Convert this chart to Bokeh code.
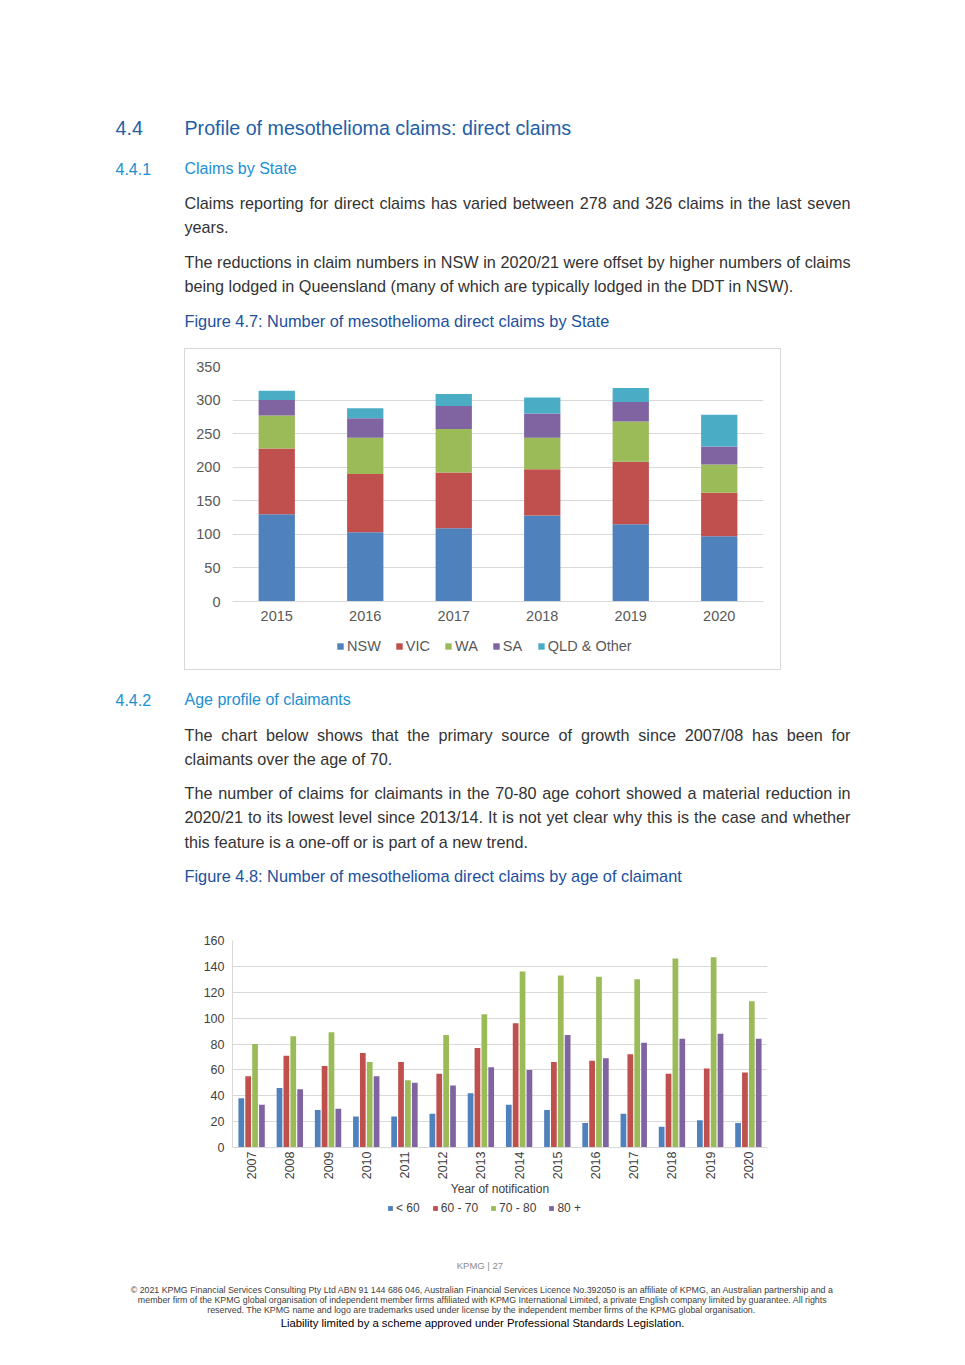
import math
from bokeh.plotting import figure
from bokeh.models import (Range1d, ColumnDataSource, Legend, LegendItem,
                          Spacer, FactorRange)
from bokeh.layouts import column, row
from bokeh.transform import dodge
from bokeh.core.properties import value
from bokeh.embed import file_html
from bokeh.resources import INLINE

# ---------------- Figure 4.7 data: claims by State ----------------
state_years = ["2015", "2016", "2017", "2018", "2019", "2020"]
nsw = [130, 103, 109, 128, 115, 97]
vic = [98, 87, 83, 69, 93, 65]
wa = [49, 54, 65, 47, 60, 42]
sa = [23, 29, 34, 36, 29, 27]
qld_other = [14, 15, 18, 24, 21, 47]
state_names = ["NSW", "VIC", "WA", "SA", "QLD & Other"]
state_ticks = [0, 50, 100, 150, 200, 250, 300, 350]

# ---------------- Figure 4.8 data: claims by age of claimant ----------------
age_years = ["2007", "2008", "2009", "2010", "2011", "2012", "2013",
             "2014", "2015", "2016", "2017", "2018", "2019", "2020"]
age_lt60 = [38, 46, 29, 24, 24, 26, 42, 33, 29, 19, 26, 16, 21, 19]
age_60_70 = [55, 71, 63, 73, 66, 57, 77, 96, 66, 67, 72, 57, 61, 58]
age_70_80 = [80, 86, 89, 66, 52, 87, 103, 136, 133, 132, 130, 146, 147, 113]
age_80p = [33, 45, 30, 55, 50, 48, 62, 60, 87, 69, 81, 84, 88, 84]
age_names = ["< 60", "60 - 70", "70 - 80", "80 +"]
age_ticks = [0, 20, 40, 60, 80, 100, 120, 140, 160]

COLORS = ["#4F81BD", "#C0504D", "#9BBB59", "#8064A2", "#4BACC6"]
CHART_FONT = "Liberation Sans"
PAGE_FONT = "Liberation Sans"
PAGE_W = 965

# approximate Arial / Liberation Sans advance widths (per 1000 em)
_W = {' ': 278, '!': 278, '"': 355, '#': 556, '$': 556, '%': 889, '&': 667, "'": 191,
      '(': 333, ')': 333, '*': 389, '+': 584, ',': 278, '-': 333, '.': 278, '/': 278,
      ':': 278, ';': 278, '<': 584, '=': 584, '>': 584, '?': 556, '@': 1015,
      'A': 667, 'B': 667, 'C': 722, 'D': 722, 'E': 667, 'F': 611, 'G': 778, 'H': 722,
      'I': 278, 'J': 500, 'K': 667, 'L': 556, 'M': 833, 'N': 722, 'O': 778, 'P': 667,
      'Q': 778, 'R': 722, 'S': 667, 'T': 611, 'U': 722, 'V': 667, 'W': 944, 'X': 667,
      'Y': 667, 'Z': 611, 'a': 556, 'b': 556, 'c': 500, 'd': 556, 'e': 556, 'f': 278,
      'g': 556, 'h': 556, 'i': 222, 'j': 222, 'k': 500, 'l': 222, 'm': 833, 'n': 556,
      'o': 556, 'p': 556, 'q': 556, 'r': 333, 's': 500, 't': 278, 'u': 556, 'v': 500,
      'w': 722, 'x': 500, 'y': 500, 'z': 500, '|': 260, '\u00a9': 737}


def em(s):
    return sum(_W.get(c, 556) for c in s) / 1000.0


def blank_fig(width, height, x0, top):
    p = figure(width=width, height=height, x_range=Range1d(x0, x0 + width),
               y_range=Range1d(top + height, top), x_axis_type=None, y_axis_type=None,
               toolbar_location=None, output_backend="svg", min_border=0)
    p.outline_line_color = None
    p.background_fill_color = "white"
    p.border_fill_color = "white"
    return p


def text_panel(top, height):
    return blank_fig(PAGE_W, height, 0, top)


def put(p, x, y, s, size, color, align="left"):
    p.text(x=[x], y=[y], text=[s], text_font=value(PAGE_FONT),
           text_font_size=value("%.2fpx" % size), text_color=color,
           text_baseline="middle", text_align=align)


def put_justified(p, x0, x1, y, s, size, color):
    words = s.split(" ")
    widths = [em(w) * size for w in words]
    gap = (x1 - x0 - sum(widths)) / (len(words) - 1)
    xs = []
    x = x0
    for w in widths:
        xs.append(x)
        x += w + gap
    p.text(x=xs[:-1], y=[y] * (len(words) - 1), text=words[:-1], text_font=value(PAGE_FONT),
           text_font_size=value("%.2fpx" % size), text_color=color,
           text_baseline="middle", text_align="left")
    p.text(x=[x1], y=[y], text=[words[-1]], text_font=value(PAGE_FONT),
           text_font_size=value("%.2fpx" % size), text_color=color,
           text_baseline="middle", text_align="right")


BODY = "#333333"
H1 = "#2360A8"
H2 = "#2090D4"
CAP = "#20509E"

body_line = "being lodged in Queensland (many of which are typically lodged in the DDT in NSW)."
body_size = 609 / em(body_line)
h1_text = "Profile of mesothelioma claims: direct claims"
h1_size = 387 / em(h1_text)
h2_size = 112 / em("Claims by State")
cap1 = "Figure 4.7: Number of mesothelioma direct claims by State"
cap_size = 425 / em(cap1)

# ---------------- top text block ----------------
top = text_panel(0, 348)
put(top, 115, 127, "4.4", h1_size, H1)
put(top, 184, 127, h1_text, h1_size, H1)
put(top, 115, 168, "4.4.1", h2_size, H2)
put(top, 184, 168, "Claims by State", h2_size, H2)
put_justified(top, 184, 850, 202,
              "Claims reporting for direct claims has varied between 278 and 326 claims in the last seven",
              body_size, BODY)
put(top, 184, 226, "years.", body_size, BODY)
put_justified(top, 184, 850, 261,
              "The reductions in claim numbers in NSW in 2020/21 were offset by higher numbers of claims",
              body_size, BODY)
put(top, 184, 285, body_line, body_size, BODY)
put(top, 184, 320, cap1, cap_size, CAP)


def style_axis(ax, size, color):
    ax.major_tick_line_color = None
    ax.minor_tick_line_color = None
    ax.major_tick_out = 0
    ax.major_tick_in = 0
    ax.major_label_text_font = CHART_FONT
    ax.major_label_text_font_size = size
    ax.major_label_text_color = color


def legend_fig(width, height, x0, top, names, gsize, fsize, color, spacing, loc, lheight):
    lf = blank_fig(width, height, x0, top)
    items = []
    for n, c in zip(names, COLORS):
        # legend key proxy: a zero-height bar placed outside the visible range
        r = lf.vbar(x=[x0 - 1000], top=[top], bottom=[top], width=1,
                    color=c, line_color=None)
        items.append(LegendItem(label=value(n), renderers=[r]))
    leg = Legend(items=items, orientation="horizontal", location=loc)
    leg.glyph_width = gsize
    leg.glyph_height = gsize
    leg.label_standoff = 3
    leg.spacing = spacing
    leg.padding = 0
    leg.margin = 0
    leg.label_height = lheight
    leg.label_text_font = CHART_FONT
    leg.label_text_font_size = fsize
    leg.label_text_color = color
    leg.label_text_baseline = "middle"
    leg.border_line_color = None
    leg.background_fill_alpha = 0
    lf.add_layout(leg, "center")
    return lf


# ---------------- Figure 4.7 ----------------
src1 = ColumnDataSource(dict(year=state_years, s_nsw=nsw, s_vic=vic, s_wa=wa, s_sa=sa,
                             s_qld=qld_other))
p1 = figure(width=595, height=283, x_range=FactorRange(factors=state_years),
            y_range=Range1d(0, 350), toolbar_location=None, output_backend="svg",
            min_border_left=47, min_border_right=17, min_border_top=17, min_border_bottom=31)
p1.vbar_stack(["s_nsw", "s_vic", "s_wa", "s_sa", "s_qld"], x="year", width=0.41,
              source=src1, color=COLORS, line_color=None)
p1.outline_line_color = None
p1.xgrid.grid_line_color = None
p1.ygrid.grid_line_color = "#D9D9D9"
p1.yaxis.ticker = state_ticks
style_axis(p1.xaxis[0], "14.5px", "#595959")
style_axis(p1.yaxis[0], "14.5px", "#595959")
p1.yaxis.axis_line_color = None
p1.yaxis.major_label_standoff = 12
p1.xaxis.axis_line_color = "#D9D9D9"
p1.xaxis.major_label_standoff = 9
lf1 = legend_fig(595, 37, 185, 632, state_names, 8, "14.5px", "#595959", 14, (104, 15), 14)
chart1 = column(p1, lf1, spacing=0, styles={"border": "1px solid #D9D9D9"})

# ---------------- middle text block ----------------
mid = text_panel(670, 255)
put(mid, 115, 699, "4.4.2", h2_size, H2)
put(mid, 184, 699, "Age profile of claimants", h2_size, H2)
put_justified(mid, 184, 850, 734,
              "The chart below shows that the primary source of growth since 2007/08 has been for",
              body_size, BODY)
put(mid, 184, 758, "claimants over the age of 70.", body_size, BODY)
put_justified(mid, 184, 850, 792,
              "The number of claims for claimants in the 70-80 age cohort showed a material reduction in",
              body_size, BODY)
put_justified(mid, 184, 850, 816,
              "2020/21 to its lowest level since 2013/14. It is not yet clear why this is the case and whether",
              body_size, BODY)
put(mid, 184, 841, "this feature is a one-off or is part of a new trend.", body_size, BODY)
put(mid, 184, 875, "Figure 4.8: Number of mesothelioma direct claims by age of claimant", cap_size, CAP)

# ---------------- Figure 4.8 ----------------
src2 = ColumnDataSource(dict(year=age_years, a_lt60=age_lt60, a_6070=age_60_70,
                             a_7080=age_70_80, a_80p=age_80p))
p2 = figure(width=596, height=277, x_range=FactorRange(factors=age_years),
            y_range=Range1d(0, 160), toolbar_location=None, output_backend="svg",
            min_border_left=48, min_border_right=13, min_border_top=15, min_border_bottom=55)
offsets = [-0.27, -0.09, 0.09, 0.27]
for col, off, c in zip(["a_lt60", "a_6070", "a_7080", "a_80p"], offsets, COLORS):
    p2.vbar(x=dodge("year", off, range=p2.x_range), top=col, width=0.15,
            source=src2, color=c, line_color=None)
p2.outline_line_color = None
p2.xgrid.grid_line_color = None
p2.ygrid.grid_line_color = "#D9D9D9"
p2.yaxis.ticker = age_ticks
style_axis(p2.xaxis[0], "12.5px", "#404040")
style_axis(p2.yaxis[0], "12.5px", "#404040")
p2.xaxis.axis_line_color = "#D9D9D9"
p2.yaxis.axis_line_color = "#D9D9D9"
p2.yaxis.major_label_standoff = 8
p2.xaxis.major_label_standoff = 4
p2.xaxis.major_label_orientation = math.pi / 2
p2.xaxis.axis_label = "Year of notification"
p2.xaxis.axis_label_text_font = CHART_FONT
p2.xaxis.axis_label_text_font_size = "12px"
p2.xaxis.axis_label_text_font_style = "normal"
p2.xaxis.axis_label_text_color = "#404040"
p2.xaxis.axis_label_standoff = 0
lf2 = legend_fig(596, 20, 184, 1202, age_names, 6, "12px", "#404040", 12, (155, 7), 12)
chart2 = column(p2, lf2, spacing=0)

# ---------------- footer ----------------
foot = text_panel(1222, 143)
put(foot, 482, 1265, "KPMG  |  27", 9.5, "#8C8C8C", "center")
legal = [
    "\u00a9 2021 KPMG Financial Services Consulting Pty Ltd ABN 91 144 686 046, Australian Financial Services Licence No.392050 is an affiliate of KPMG, an Australian partnership and a",
    "member firm of the KPMG global organisation of independent member firms affiliated with KPMG International Limited, a private English company limited by guarantee. All rights",
    "reserved. The KPMG name and logo are trademarks used under license by the independent member  firms of the KPMG global organisation.",
]
legal_size = 705 / em(legal[0])
for i, ln in enumerate(legal):
    put(foot, 482, 1289 + 10 * i, ln, legal_size, "#404040", "center")
liab = "Liability limited by a scheme approved under Professional Standards Legislation."
put(foot, 482, 1322, liab, 404 / em(liab), "#000000", "center")

layout = column(
    top,
    row(Spacer(width=184, height=322), chart1),
    mid,
    row(Spacer(width=184, height=297), chart2),
    foot,
    spacing=0,
)

open("out.html", "w").write(file_html(layout, INLINE))
